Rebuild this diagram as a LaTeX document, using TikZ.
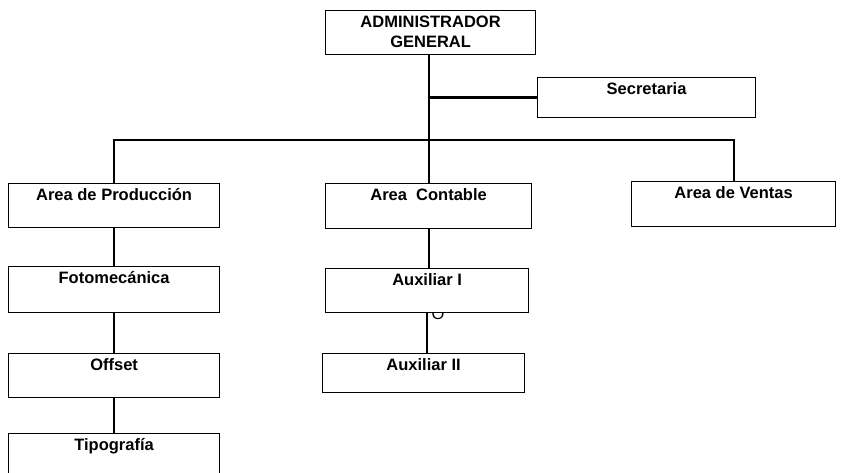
\documentclass[tikz,border=0pt]{standalone}
\usepackage{fontspec}
\setmainfont{Liberation Sans}
\usetikzlibrary{positioning}
\tikzset{
  box/.style={draw=black,line width=1.2pt,fill=white,inner sep=0pt,
    text height=17pt,text depth=#1,align=center,anchor=north west,
    font=\fontsize{16.5}{20}\selectfont\bfseries},
  box/.default=27pt,
  link/.style={draw=black,line width=2.2pt},
}
\begin{document}
\begin{tikzpicture}[x=1pt,y=-1pt]
  \useasboundingbox (0,0) rectangle (841,473);
  % stray letter, mostly hidden under Auxiliar I
  \node[font=\fontsize{16.5}{20}\selectfont] (oglyph) at (438,313.5) {O};
  \node[box=7pt,text height=37pt,minimum width=210pt] (adm) at (325,10) {ADMINISTRADOR\\GENERAL};
  \node[box=23pt,minimum width=218pt] (sec) at (537,77) {Secretaria};
  \node[box,minimum width=211pt] (prod) at (8,183) {Area de Producción};
  \node[box=28pt,minimum width=206pt] (cont) at (325,183) {Area\ \ Contable};
  \node[box=28pt,minimum width=204pt] (vent) at (631,181) {Area de Ventas};
  \node[box=29pt,minimum width=211pt] (foto) at (8,266) {Fotomecánica};
  \node[box,minimum width=211pt] (offs) at (8,353) {Offset};
  \node[box=40pt,minimum width=211pt] (tipo) at (8,433) {Tipografía};
  \node[box,minimum width=203pt] (aux1) at (325,268) {Auxiliar I};
  \node[box=22pt,minimum width=202pt] (aux2) at (322,353) {Auxiliar II};
  \coordinate (jn) at (cont.north |- 0,140);
  \draw[link] (cont.north |- adm.south) -- (cont.north);
  \draw[link] (cont.north |- sec.west) -- (sec.west);
  \draw[link] (prod.north) |- (jn) -| (vent.north);
  \draw[link] (prod) -- (foto);
  \draw[link] (foto) -- (offs);
  \draw[link] (offs) -- (tipo);
  \draw[link] (cont) -- (cont.south |- aux1.north);
  \draw[link] (aux1.south) -- (aux1.south |- aux2.north);
\end{tikzpicture}
\end{document}
